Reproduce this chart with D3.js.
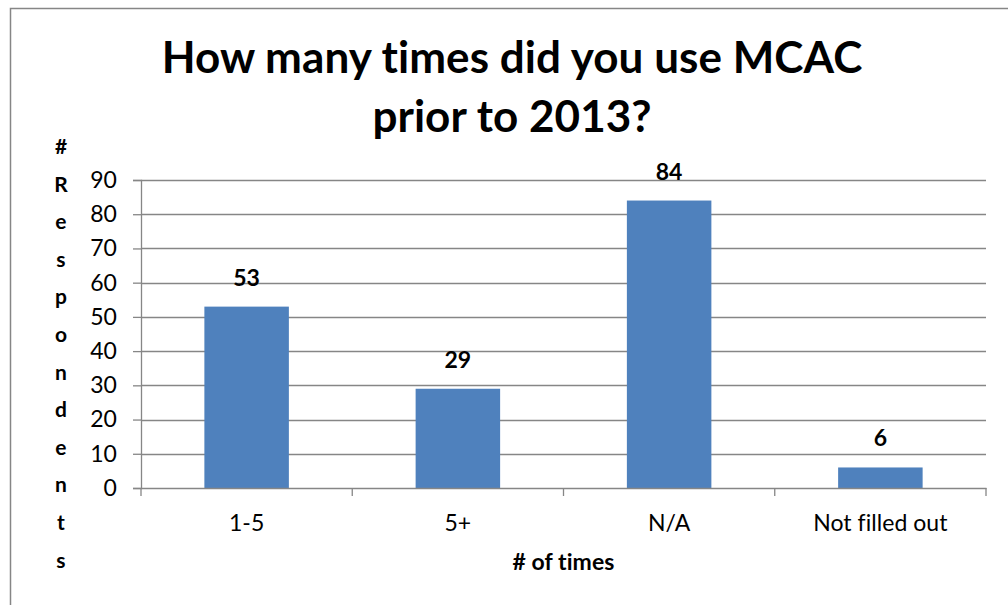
<!DOCTYPE html>
<html>
<head>
<meta charset="utf-8">
<script src="https://cdn.jsdelivr.net/npm/d3@7"></script>
<style>
  html, body { margin: 0; padding: 0; background: #fff; }
  svg { display: block; }
  text { font-family: Lato, "Open Sans", "Liberation Sans", sans-serif; fill: #000; font-variant-ligatures: none; font-feature-settings: "liga" 0, "clig" 0, "dlig" 0; letter-spacing: 0.05px; }
</style>
</head>
<body>
<svg id="chart" width="1008" height="605"></svg>
<script>
const categories = ["1-5", "5+", "N/A", "Not filled out"];
const values = [53, 29, 84, 6];
const yTicks = [0, 10, 20, 30, 40, 50, 60, 70, 80, 90];
const titleLines = ["How many times did you use MCAC", "prior to 2013?"];
const xTitle = "# of times";
const yTitle = "# Respondents";

const W = 1008, H = 605;
const svg = d3.select("#chart");
const margin = { left: 141, right: 22, top: 180, bottom: 117 };
const plotW = W - margin.left - margin.right;
const plotH = H - margin.top - margin.bottom;
const gridColor = "#868686";

// outer chart border (only top and left visible in the crop)
svg.append("rect")
  .attr("x", 10.5).attr("y", 8.5)
  .attr("width", W + 20).attr("height", H + 20)
  .attr("fill", "none").attr("stroke", gridColor).attr("stroke-width", 1.5);

const x = d3.scaleBand().domain(categories).range([0, plotW]).padding(0);
const y = d3.scaleLinear().domain([0, 90]).range([plotH, 0]);

const g = svg.append("g").attr("transform", `translate(${margin.left},${margin.top})`);

// gridlines
g.append("g").selectAll("line").data(yTicks.filter(d => d > 0)).join("line")
  .attr("x1", 0).attr("x2", plotW)
  .attr("y1", d => Math.round(y(d)) + 0.5).attr("y2", d => Math.round(y(d)) + 0.5)
  .attr("stroke", gridColor).attr("stroke-width", 1.3);

// bars
const barW = x.bandwidth() * 0.4;
g.append("g").selectAll("rect").data(categories).join("rect")
  .attr("x", (d) => x(d) + (x.bandwidth() - barW) / 2)
  .attr("y", (d, i) => y(values[i]))
  .attr("width", barW)
  .attr("height", (d, i) => plotH - y(values[i]))
  .attr("fill", "#4F81BD");

// data labels
g.append("g").selectAll("text").data(categories).join("text")
  .attr("x", d => x(d) + x.bandwidth() / 2)
  .attr("y", (d, i) => y(values[i]) - 21)
  .attr("text-anchor", "middle")
  .attr("font-weight", "bold")
  .attr("font-size", 23)
  .text((d, i) => values[i]);

// y axis
const yAxis = d3.axisLeft(y).tickValues(yTicks).tickSize(8).tickPadding(16);
const yg = g.append("g").call(yAxis);
yg.select(".domain").attr("stroke", gridColor).attr("stroke-width", 1.3);
yg.selectAll(".tick line").attr("stroke", gridColor).attr("stroke-width", 1.3);
yg.selectAll(".tick text").attr("font-size", 23).attr("font-family", "Lato, 'Open Sans', sans-serif").attr("fill", "#000");

// x axis
const xAxis = d3.axisBottom(x).tickSize(0).tickPadding(27);
const xg = g.append("g").attr("transform", `translate(0,${plotH})`).call(xAxis);
xg.select(".domain").attr("stroke", gridColor).attr("stroke-width", 1.3);
xg.selectAll(".tick text").attr("font-size", 23).attr("font-family", "Lato, 'Open Sans', sans-serif").attr("fill", "#000");
// category boundary tick marks
const bounds = categories.map(c => x(c)).concat([plotW]);
xg.append("g").selectAll("line").data(bounds).join("line")
  .attr("x1", d => d).attr("x2", d => d)
  .attr("y1", 0).attr("y2", 8)
  .attr("stroke", gridColor).attr("stroke-width", 1.3);

// title
svg.append("text")
  .attr("x", 512).attr("y", 73)
  .attr("text-anchor", "middle")
  .attr("font-weight", "bold").attr("font-size", 44)
  .text(titleLines[0]);
svg.append("text")
  .attr("x", 512).attr("y", 132)
  .attr("text-anchor", "middle")
  .attr("font-weight", "bold").attr("font-size", 44)
  .text(titleLines[1]);

// x title
svg.append("text")
  .attr("x", margin.left + plotW / 2).attr("y", 570)
  .attr("text-anchor", "middle")
  .attr("font-weight", "bold").attr("font-size", 23)
  .text(xTitle);

// y title stacked letters
const letters = yTitle.replace(/ /g, "").split("");
const yt = svg.append("text")
  .attr("text-anchor", "middle")
  .attr("font-weight", "bold").attr("font-size", 21);
yt.selectAll("tspan").data(letters).join("tspan")
  .attr("x", 61)
  .attr("y", (d, i) => 154 + i * 37.6)
  .text(d => d);
</script>
</body>
</html>
